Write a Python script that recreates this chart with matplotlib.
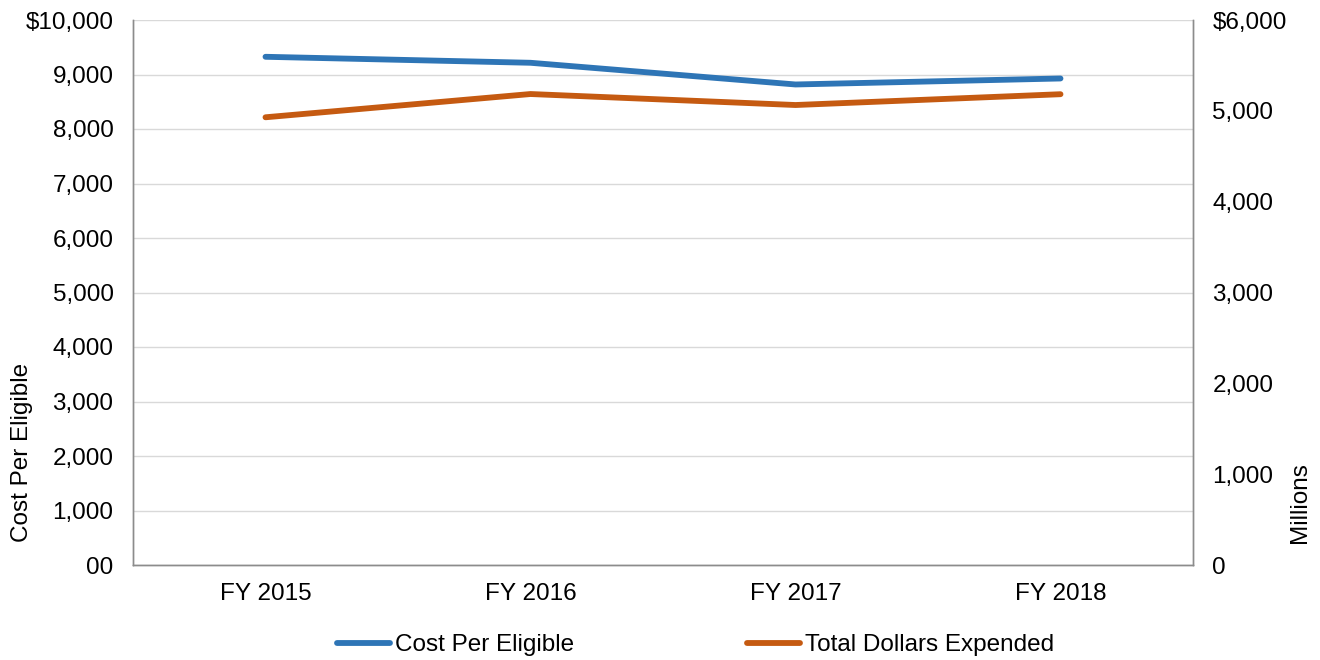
import matplotlib.pyplot as plt
from matplotlib.lines import Line2D

plt.rcParams['font.family'] = ['Liberation Sans', 'DejaVu Sans']

years = ["FY 2015", "FY 2016", "FY 2017", "FY 2018"]
cost_per_eligible = [9325, 9215, 8817, 8927]
total_dollars = [4929, 5185, 5064, 5183]  # millions

left_ticks = [0, 1000, 2000, 3000, 4000, 5000, 6000, 7000, 8000, 9000, 10000]
left_labels = ["00", "1,000", "2,000", "3,000", "4,000", "5,000", "6,000",
               "7,000", "8,000", "9,000", "$10,000"]
right_ticks = [0, 1000, 2000, 3000, 4000, 5000, 6000]
right_labels = ["0", "1,000", "2,000", "3,000", "4,000", "5,000", "$6,000"]

BLUE = "#2E75B6"
ORANGE = "#C55A11"
FS = 17.5
LW = 4.2

fig = plt.figure(figsize=(13.2, 6.6), dpi=100)
ax = fig.add_axes([133 / 1320, 1 - 565 / 660, 1060 / 1320, 545 / 660])
ax2 = ax.twinx()

x = list(range(len(years)))
ax.plot(x, cost_per_eligible, color=BLUE, lw=LW, solid_capstyle='round')
ax2.plot(x, total_dollars, color=ORANGE, lw=LW, solid_capstyle='round')

ax.set_xlim(-0.5, 3.5)
ax.set_ylim(0, 10000)
ax2.set_ylim(0, 6000)

ax.set_xticks(x)
ax.set_xticklabels(years, fontsize=FS)
ax.set_yticks(left_ticks)
ax.set_yticklabels(left_labels, fontsize=FS)
ax2.set_yticks(right_ticks)
ax2.set_yticklabels(right_labels, fontsize=FS)

ax.tick_params(axis='x', length=0, pad=13)
ax.tick_params(axis='y', length=0, pad=14)
ax2.tick_params(axis='y', length=0, pad=14)

ax.grid(axis='y', color='#D9D9D9', lw=1)
ax.set_axisbelow(True)
for a in (ax, ax2):
    a.spines['top'].set_visible(False)
    for s in ('left', 'right', 'bottom'):
        a.spines[s].set_color('#8C8C8C')
        a.spines[s].set_linewidth(1)

fig.text(22 / 1320, 1 - 452 / 660, "Cost Per Eligible", rotation=90,
         ha='center', va='center', fontsize=FS)
fig.text(1300 / 1320, 1 - 503 / 660, "Millions", rotation=90,
         ha='center', va='center', fontsize=FS)

handles = [Line2D([], [], color=BLUE, lw=LW, solid_capstyle='round'),
           Line2D([], [], color=ORANGE, lw=LW, solid_capstyle='round')]
fig.legend(handles, ["Cost Per Eligible", "Total Dollars Expended"],
           loc='center', bbox_to_anchor=(0.527, 1 - 645 / 660), ncol=2,
           frameon=False, fontsize=FS, handlelength=2.2, handletextpad=0.2,
           columnspacing=7.1)

fig.savefig("out.png", dpi=100)
